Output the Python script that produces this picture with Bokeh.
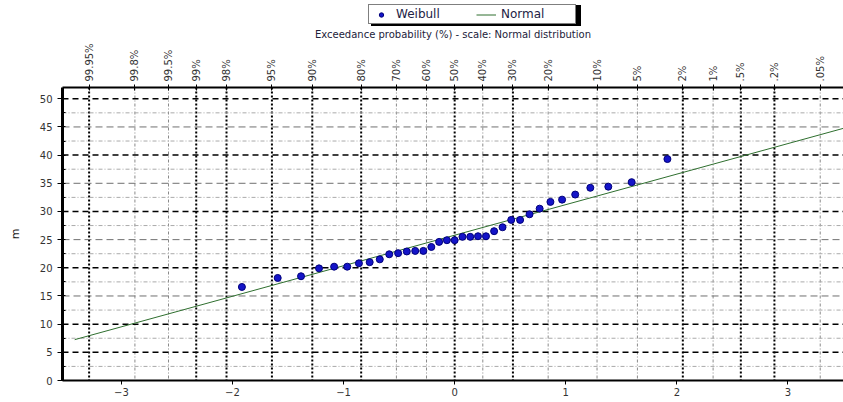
import math
from statistics import NormalDist
from bokeh.plotting import figure
from bokeh.layouts import column
from bokeh.models import (LinearAxis, FixedTicker, Legend, LegendItem, Range1d, Span)
from bokeh.embed import file_html
from bokeh.resources import INLINE

# ---------------- data ----------------
weibull_z = [-1.915, -1.593, -1.383, -1.221, -1.085, -0.967, -0.862, -0.765, -0.674, -0.589,
             -0.509, -0.431, -0.355, -0.282, -0.210, -0.140, -0.070, 0.000, 0.070, 0.140,
             0.210, 0.282, 0.355, 0.431, 0.509, 0.589, 0.674, 0.765, 0.862, 0.967,
             1.085, 1.221, 1.383, 1.593, 1.915]
weibull_mm = [16.6, 18.2, 18.5, 19.9, 20.2, 20.2, 20.8, 21.0, 21.5, 22.4,
              22.6, 22.9, 23.0, 23.0, 23.7, 24.6, 24.9, 24.9, 25.5, 25.5,
              25.6, 25.6, 26.5, 27.2, 28.5, 28.5, 29.5, 30.5, 31.7, 32.1,
              33.0, 34.2, 34.4, 35.2, 39.3]
normal_z = [-3.42, 3.6]
normal_mm = [7.25, 45.3]

exceed_p = [99.95, 99.8, 99.5, 99, 98, 95, 90, 80, 70, 60, 50, 40, 30, 20, 10, 5, 2, 1, 0.5, 0.2, 0.05]
exceed_labels = ["99.95%", "99.8%", "99.5%", "99%", "98%", "95%", "90%", "80%", "70%", "60%",
                 "50%", "40%", "30%", "20%", "10%", "5%", "2%", "1%", ".5%", ".2%", ".05%"]
exceed_dark = [99.95, 99, 98, 95, 90, 80, 50, 30, 2, 0.5, 0.2]

x_ticks = [-3, -2, -1, 0, 1, 2, 3]
y_ticks = [0, 5, 10, 15, 20, 25, 30, 35, 40, 45, 50]
y_dark = [5, 10, 20, 30, 40, 50]
y_mid = [15, 25, 35, 45]
y_minor = [2.5, 7.5, 12.5, 17.5, 22.5, 27.5, 32.5, 37.5, 42.5, 47.5]

nd = NormalDist()
def zpos(p):
    return round(nd.inv_cdf(1 - p / 100.0), 4) + 0.0

exceed_z = [zpos(p) for p in exceed_p]

FONT = "DejaVu Sans"
W = 843
HL = 26            # legend strip height
H = 374            # main chart height
BL, BT, BB = 62, 60, 20

# ---------------- legend strip ----------------
lg = figure(width=W, height=HL, output_backend="svg", toolbar_location=None,
            x_range=Range1d(100, 101), y_range=Range1d(100, 101),
            x_axis_location=None, y_axis_location=None,
            min_border_left=0, min_border_right=0, min_border_top=0, min_border_bottom=0)
lg.title.visible = False
lg.outline_line_color = None
lg.xgrid.visible = False
lg.ygrid.visible = False
lg.background_fill_color = "white"
lg.border_fill_color = "white"
lg_ln = lg.line(normal_z, normal_mm, line_color="#2f6f2f", line_width=1)
lg_sc = lg.scatter(weibull_z, weibull_mm, size=5, fill_color="#1414c8", line_color="#00007a")
items = [LegendItem(label="Weibull", renderers=[lg_sc]),
         LegendItem(label="Normal", renderers=[lg_ln])]
common = dict(orientation="horizontal", padding=2, margin=0, spacing=8,
              glyph_width=20, glyph_height=11, label_height=11, label_width=72,
              label_standoff=5, label_text_font=FONT, label_text_font_size="12px")
shadow = Legend(items=items, location=(309, -1),
                border_line_color="black", border_line_width=2,
                background_fill_color="black", background_fill_alpha=1,
                label_text_color="black", **common)
legend = Legend(items=items, location=(306, 2),
                border_line_color="black", border_line_width=1.5,
                background_fill_color="white", background_fill_alpha=1,
                label_text_color="#222244", **common)
lg.add_layout(shadow, "center")
lg.add_layout(legend, "center")

# ---------------- main chart ----------------
p = figure(width=W, height=H, output_backend="svg", toolbar_location=None,
           x_range=Range1d(-3.53, 3.50), y_range=Range1d(0, 52),
           min_border_left=BL, min_border_right=0, min_border_top=BT, min_border_bottom=BB)
p.title.visible = False
p.background_fill_color = "white"
p.border_fill_color = "white"
p.outline_line_color = None
p.xgrid.visible = False
p.ygrid.visible = False

# grid lines (vertical ones follow the probability ticks)
for pr, z in zip(exceed_p, exceed_z):
    if pr in exceed_dark:
        p.add_layout(Span(location=z, dimension="height", line_color="black",
                          line_dash="2 2", line_width=2, level="underlay"))
    else:
        p.add_layout(Span(location=z, dimension="height", line_color="#8a8a8a",
                          line_dash="3 2 1 2", line_width=1, level="underlay"))
for v in y_minor:
    p.add_layout(Span(location=v, dimension="width", line_color="#aaaaaa",
                      line_dash="4 2 1 2", line_width=1, level="underlay"))
for v in y_mid:
    p.add_layout(Span(location=v, dimension="width", line_color="#707070",
                      line_dash="7 4", line_width=1, level="underlay"))
for v in y_dark:
    p.add_layout(Span(location=v, dimension="width", line_color="black",
                      line_dash="6 4", line_width=1.5, level="underlay"))

# data glyphs
ln = p.line(normal_z, normal_mm, line_color="#2f6f2f", line_width=1)
sc = p.scatter(weibull_z, weibull_mm, size=7, fill_color="#1414c8", line_color="#00007a",
               line_width=1)

# bottom axis
xa = p.xaxis[0]
xa.ticker = FixedTicker(ticks=x_ticks)
xa.axis_line_width = 2
xa.axis_line_color = "black"
xa.major_tick_out = 4
xa.major_tick_in = 0
xa.minor_tick_line_color = None
xa.major_label_text_font = FONT
xa.major_label_text_font_size = "10px"
xa.major_label_text_color = "#333333"
xa.major_label_standoff = 3

# left axis
ya = p.yaxis[0]
ya.ticker = FixedTicker(ticks=y_ticks, minor_ticks=y_minor)
ya.axis_line_width = 3
ya.axis_line_color = "black"
ya.major_tick_out = 5
ya.major_tick_in = 3
ya.minor_tick_out = 0
ya.minor_tick_in = 3
ya.major_label_text_font = FONT
ya.major_label_text_font_size = "10px"
ya.major_label_text_color = "#333333"
ya.major_label_standoff = 5
ya.axis_label = "m"
ya.axis_label_text_font = FONT
ya.axis_label_text_font_size = "11px"
ya.axis_label_text_font_style = "normal"
ya.axis_label_text_color = "#222222"
ya.axis_label_standoff = 15

# top axis (exceedance probability on a normal scale)
ta = LinearAxis(ticker=FixedTicker(ticks=exceed_z))
ta.major_label_overrides = {z: lab for z, lab in zip(exceed_z, exceed_labels)}
ta.major_label_orientation = math.pi / 2
ta.axis_line_width = 2
ta.axis_line_color = "black"
ta.major_tick_out = 3
ta.major_tick_in = 3
ta.minor_tick_line_color = None
ta.major_label_text_font = FONT
ta.major_label_text_font_size = "10px"
ta.major_label_text_color = "#333333"
ta.major_label_standoff = 3
ta.axis_label = "Exceedance probability (%) - scale: Normal distribution"
ta.axis_label_text_font = FONT
ta.axis_label_text_font_size = "10px"
ta.axis_label_text_font_style = "normal"
ta.axis_label_text_color = "#22223a"
ta.axis_label_standoff = 0
p.add_layout(ta, "above")

layout = column(lg, p, spacing=0)
open("out.html", "w").write(file_html(layout, INLINE))
